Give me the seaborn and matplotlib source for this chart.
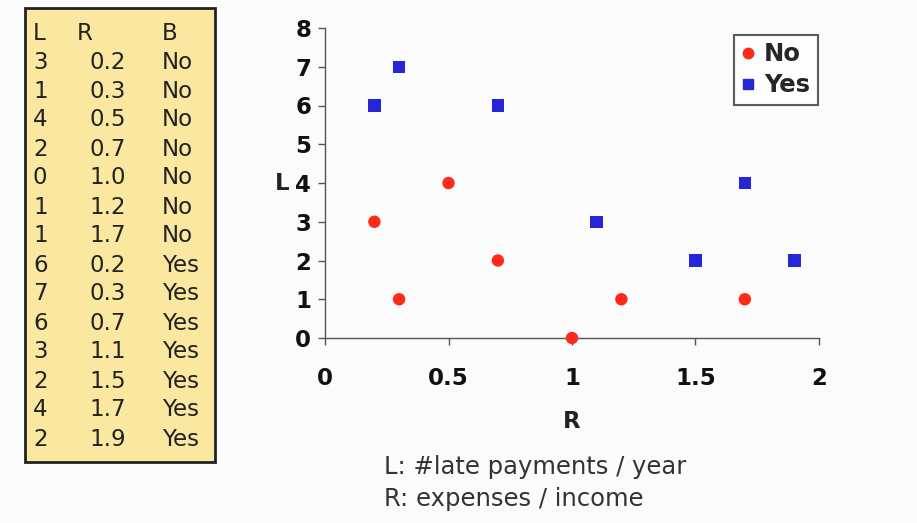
import matplotlib
matplotlib.use("Agg")
import matplotlib.pyplot as plt
import seaborn as sns
import pandas as pd
from matplotlib.patches import Rectangle
from matplotlib.lines import Line2D

L_vals = [3, 1, 4, 2, 0, 1, 1, 6, 7, 6, 3, 2, 4, 2]
R_vals = [0.2, 0.3, 0.5, 0.7, 1.0, 1.2, 1.7, 0.2, 0.3, 0.7, 1.1, 1.5, 1.7, 1.9]
B_vals = ["No"] * 7 + ["Yes"] * 7
x_ticks = [0, 0.5, 1, 1.5, 2]
x_tick_labels = ["0", "0.5", "1", "1.5", "2"]
y_ticks = [0, 1, 2, 3, 4, 5, 6, 7, 8]
notes = ["L: #late payments / year", "R: expenses / income"]

df = pd.DataFrame({"L": L_vals, "R": R_vals, "B": B_vals})

sns.set_theme(style="white")
plt.rcParams['font.family'] = ['DejaVu Sans']

W, H = 917, 523
fig = plt.figure(figsize=(W / 100, H / 100), dpi=100)
fig.patch.set_facecolor("#fbfbfb")

ax = fig.add_axes([325 / W, 1 - 338 / H, (819 - 325) / W, (338 - 28) / H])
ax.set_facecolor("#fbfbfb")

palette = {"No": "#ff2a1a", "Yes": "#2626d6"}
markers = {"No": "o", "Yes": "s"}
sns.scatterplot(data=df, x="R", y="L", hue="B", style="B", palette=palette,
                markers=markers, s=80, edgecolor="none", ax=ax, legend=False,
                clip_on=False, zorder=3)

ax.set_xlim(0, 2)
ax.set_ylim(0, 8)
ax.set_xticks(x_ticks)
ax.set_xticklabels(x_tick_labels)
ax.set_yticks(y_ticks)
for lab in ax.get_xticklabels() + ax.get_yticklabels():
    lab.set_fontweight("bold")
    lab.set_fontsize(16.5)
    lab.set_color("#111111")
ax.tick_params(axis="both", direction="out", length=5, width=1, color="#555555",
               bottom=True, left=True, pad=5)
ax.tick_params(axis="x", pad=16)
for side in ["top", "right"]:
    ax.spines[side].set_visible(False)
for side in ["left", "bottom"]:
    ax.spines[side].set_color("#555555")
    ax.spines[side].set_linewidth(1)

ax.set_xlabel("R", fontsize=16.5, fontweight="bold", color="#222222")
ax.xaxis.set_label_coords(0.5, -72 / 310)
ax.set_ylabel("L", fontsize=16.5, fontweight="bold", color="#222222", rotation=0,
              va="center")
ax.yaxis.set_label_coords(-0.087, 0.5)

# legend
handles = [Line2D([], [], marker="o", linestyle="none", color=palette["No"], markersize=7.5),
           Line2D([], [], marker="s", linestyle="none", color=palette["Yes"], markersize=7.5)]
leg = ax.legend(handles, ["No", "Yes"], loc="upper right", bbox_to_anchor=(0.997, 0.978),
                frameon=True, fancybox=False, handlelength=0.6, handletextpad=0.35,
                borderpad=0.3, labelspacing=0.3, borderaxespad=0,
                prop={"weight": "bold", "size": 17.5})
leg.get_frame().set_edgecolor("#333333")
leg.get_frame().set_linewidth(1.5)
leg.get_frame().set_facecolor("white")

# data table on the left
fig.patches.append(Rectangle((25 / W, 1 - 462 / H), 190 / W, 454 / H,
                             transform=fig.transFigure, facecolor="#fbe8a0",
                             edgecolor="#222222", linewidth=2))
row0 = 33
dy = 29.0
fs_t = 16.5
fig.text(33 / W, 1 - row0 / H, "L", fontsize=fs_t, va="center", ha="left", color="#222222")
fig.text(77 / W, 1 - row0 / H, "R", fontsize=fs_t, va="center", ha="left", color="#222222")
fig.text(162 / W, 1 - row0 / H, "B", fontsize=fs_t, va="center", ha="left", color="#222222")
for i, (l, r, b) in enumerate(zip(L_vals, R_vals, B_vals)):
    y = 1 - (row0 + (i + 1) * dy) / H
    fig.text(33 / W, y, str(l), fontsize=fs_t, va="center", ha="left", color="#222222")
    fig.text(126 / W, y, f"{r:.1f}", fontsize=fs_t, va="center", ha="right", color="#222222")
    fig.text(162 / W, y, b, fontsize=fs_t, va="center", ha="left", color="#222222")

fig.text(384 / W, 1 - 467 / H, notes[0], fontsize=17.5, va="center", ha="left", color="#333333")
fig.text(384 / W, 1 - 499 / H, notes[1], fontsize=17.5, va="center", ha="left", color="#333333")

fig.savefig("out.png", dpi=100, facecolor=fig.get_facecolor())
